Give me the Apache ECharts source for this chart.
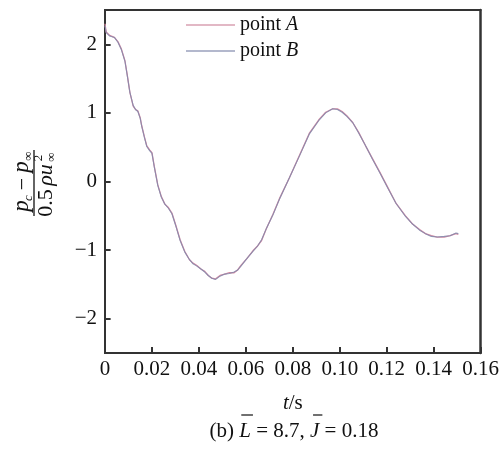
<!DOCTYPE html>
<html>
<head>
<meta charset="utf-8">
<script src="https://cdn.jsdelivr.net/npm/echarts@6/dist/echarts.min.js"></script>
<style>html,body{margin:0;padding:0;background:#fff}#c{width:502px;height:450px}</style>
</head>
<body>
<div id="c"></div>
<script>
var tValues = [0, 0.0005, 0.002, 0.004, 0.0055, 0.007, 0.0085, 0.0095, 0.0106, 0.012, 0.013, 0.014, 0.015, 0.0156, 0.0168, 0.0178, 0.019, 0.02, 0.021, 0.0225, 0.024, 0.0255, 0.027, 0.0285, 0.030, 0.032, 0.034, 0.036, 0.0375, 0.039, 0.041, 0.0425, 0.044, 0.0455, 0.047, 0.049, 0.051, 0.053, 0.055, 0.0565, 0.058, 0.0605, 0.063, 0.065, 0.0667, 0.0688, 0.0715, 0.0743, 0.0785, 0.0828, 0.087, 0.0913, 0.094, 0.097, 0.099, 0.101, 0.103, 0.1055, 0.108, 0.111, 0.114, 0.117, 0.1205, 0.124, 0.128, 0.131, 0.134, 0.1365, 0.139, 0.1415, 0.1445, 0.147, 0.1495, 0.1505];
var pointA = [2.30, 2.18, 2.13, 2.10, 2.04, 1.93, 1.76, 1.55, 1.30, 1.10, 1.05, 1.03, 0.93, 0.82, 0.65, 0.52, 0.46, 0.42, 0.22, -0.05, -0.22, -0.33, -0.38, -0.46, -0.62, -0.85, -1.02, -1.14, -1.19, -1.22, -1.28, -1.31, -1.37, -1.41, -1.42, -1.37, -1.35, -1.33, -1.33, -1.29, -1.22, -1.12, -1.01, -0.94, -0.86, -0.68, -0.48, -0.25, 0.05, 0.38, 0.70, 0.91, 1.01, 1.06, 1.06, 1.02, 0.96, 0.86, 0.72, 0.52, 0.33, 0.14, -0.09, -0.32, -0.50, -0.62, -0.70, -0.76, -0.79, -0.81, -0.81, -0.79, -0.76, -0.77];
var pointB = [2.27, 2.17, 2.12, 2.10, 2.03, 1.92, 1.75, 1.54, 1.30, 1.11, 1.05, 1.02, 0.92, 0.81, 0.64, 0.51, 0.45, 0.41, 0.21, -0.06, -0.23, -0.33, -0.39, -0.47, -0.63, -0.86, -1.03, -1.14, -1.20, -1.23, -1.28, -1.32, -1.37, -1.41, -1.43, -1.38, -1.35, -1.34, -1.32, -1.29, -1.23, -1.12, -1.02, -0.94, -0.85, -0.68, -0.49, -0.26, 0.05, 0.37, 0.69, 0.90, 1.00, 1.06, 1.05, 1.01, 0.95, 0.86, 0.71, 0.52, 0.32, 0.13, -0.10, -0.32, -0.51, -0.62, -0.71, -0.76, -0.80, -0.81, -0.80, -0.79, -0.75, -0.76];
var xTicks = [0, 0.02, 0.04, 0.06, 0.08, 0.10, 0.12, 0.14, 0.16];
var yTicks = [-2, -1, 0, 1, 2];
var seriesNames = ['point A', 'point B'];
var captionParts = ['(b) ', 'L', ' = 8.7, ', 'J', ' = 0.18'];

var FONT = '"Liberation Serif", "Times New Roman", serif';
var INK = '#111';
var AX = '#333';
var chart = echarts.init(document.getElementById('c'), null, {renderer: 'canvas'});

function pairs(ys) { return tValues.map(function (t, i) { return [t, ys[i]]; }); }

var CAP_SIZE = 21, CAP_X = 294, CAP_Y = 431;
var mctx = document.createElement('canvas').getContext('2d');
function mw(s, italic) { mctx.font = (italic ? 'italic ' : '') + CAP_SIZE + 'px ' + FONT; return mctx.measureText(s).width; }
var widths = captionParts.map(function (s, i) { return mw(s, i === 1 || i === 3); });
var total = widths.reduce(function (a, b) { return a + b; }, 0);
var x0 = CAP_X - total / 2;
var lStart = x0 + widths[0], lEnd = lStart + widths[1];
var jStart = x0 + widths[0] + widths[1] + widths[2], jEnd = jStart + widths[3];
var captionText = captionParts[0] + '{i|' + captionParts[1] + '}' + captionParts[2] + '{i|' + captionParts[3] + '}' + captionParts[4];
var OVER_Y = CAP_Y - 16;

var G = {left: 105, right: 21, top: 10, bottom: 97, w: 502, h: 450};
var gridW = G.w - G.left - G.right, gridH = G.h - G.top - G.bottom;

var xRange = {type: 'value', min: 0, max: 0.16, interval: 0.02};
var yRange = {type: 'value', min: -2.5, max: 2.5};
function lineOnly(show, w) { return {show: show, onZero: false, lineStyle: {color: AX, width: w || 2}}; }

var option = {
  backgroundColor: '#fff',
  animation: false,
  grid: {left: G.left, right: G.right, top: G.top, bottom: G.bottom},
  legend: {
    orient: 'vertical', left: 181, top: 10, itemWidth: 49, itemHeight: 1.5, itemGap: 6, icon: 'rect',
    data: seriesNames,
    textStyle: {fontFamily: FONT, fontSize: 20, color: INK,
      rich: {i: {fontFamily: FONT, fontSize: 20, fontStyle: 'italic', color: INK}}},
    formatter: function (n) { var p = n.split(' '); return p[0] + ' {i|' + p[1] + '}'; }
  },
  xAxis: [
    Object.assign({}, xRange, {
      position: 'bottom',
      name: '{i|t}/s', nameLocation: 'middle', nameGap: 40,
      nameTextStyle: {fontFamily: FONT, fontSize: 21, color: INK,
        rich: {i: {fontFamily: FONT, fontSize: 21, fontStyle: 'italic', color: INK}}},
      axisLine: lineOnly(true), axisTick: {show: false},
      axisLabel: {fontFamily: FONT, fontSize: 21, color: INK, margin: 6,
        formatter: function (v) { return v === 0 ? '0' : v.toFixed(2); }},
      splitLine: {show: false}
    }),
    // tick carrier: a top-positioned axis moved down onto the bottom edge; its outward ticks point up into the plot
    Object.assign({}, xRange, {
      position: 'top', offset: -gridH, axisLine: lineOnly(true),
      axisTick: {show: true, inside: false, length: 6, lineStyle: {color: AX, width: 2}},
      axisLabel: {show: false}, splitLine: {show: false}
    }),
    Object.assign({}, xRange, {
      position: 'top', axisLine: lineOnly(true), axisTick: {show: false}, axisLabel: {show: false}, splitLine: {show: false}
    })
  ],
  yAxis: [
    Object.assign({}, yRange, {
      position: 'left', axisLine: lineOnly(true), axisTick: {show: false},
      axisLabel: {fontFamily: FONT, fontSize: 21, color: INK, margin: 8, customValues: yTicks,
        formatter: function (v) { return v < 0 ? '\u2212' + Math.abs(v) : String(v); }},
      splitLine: {show: false}
    }),
    // tick carrier: a right-positioned axis moved onto the left edge; its outward ticks point right into the plot
    Object.assign({}, yRange, {
      position: 'right', offset: -gridW, axisLine: lineOnly(true),
      axisTick: {show: true, inside: false, length: 6, lineStyle: {color: AX, width: 2}, customValues: yTicks},
      axisLabel: {show: false}, splitLine: {show: false}
    }),
    Object.assign({}, yRange, {
      position: 'right', axisLine: lineOnly(true, 2.5), axisTick: {show: false}, axisLabel: {show: false}, splitLine: {show: false}
    })
  ],
  series: [
    {name: seriesNames[0], type: 'line', symbol: 'none', xAxisIndex: 0, yAxisIndex: 0, data: pairs(pointA),
      lineStyle: {color: '#d48aa2', width: 1.3}, itemStyle: {color: '#d9a0b2'}},
    {name: seriesNames[1], type: 'line', symbol: 'none', xAxisIndex: 0, yAxisIndex: 0, data: pairs(pointB),
      lineStyle: {color: '#8088ac', width: 1.1, opacity: 0.85}, itemStyle: {color: '#9aa0bc'}}
  ],
  graphic: [
    {
      type: 'group', x: 34, y: 183, rotation: Math.PI / 2,
      children: [
        {type: 'text', x: -23, y: -12, style: {text: 'p', font: 'italic 23px ' + FONT, fill: INK, align: 'center', verticalAlign: 'middle'}},
        {type: 'text', x: -15, y: -5, style: {text: 'c', font: 'italic 13px ' + FONT, fill: INK, align: 'center', verticalAlign: 'middle'}},
        {type: 'text', x: -1, y: -11, style: {text: '\u2212', font: '22px ' + FONT, fill: INK, align: 'center', verticalAlign: 'middle'}},
        {type: 'text', x: 16, y: -12, style: {text: 'p', font: 'italic 23px ' + FONT, fill: INK, align: 'center', verticalAlign: 'middle'}},
        {type: 'text', x: 27, y: -5, style: {text: '\u221e', font: '13px ' + FONT, fill: INK, align: 'center', verticalAlign: 'middle'}},
        {type: 'line', shape: {x1: -33, y1: 0, x2: 33, y2: 0}, style: {stroke: INK, lineWidth: 1.3}},
        {type: 'text', x: -20, y: 12, style: {text: '0.5', font: '22px ' + FONT, fill: INK, align: 'center', verticalAlign: 'middle'}},
        {type: 'text', x: 8, y: 12, style: {text: '\u03c1u', font: 'italic 22px ' + FONT, fill: INK, align: 'center', verticalAlign: 'middle'}},
        {type: 'text', x: 25, y: 5, style: {text: '2', font: '13px ' + FONT, fill: INK, align: 'center', verticalAlign: 'middle'}},
        {type: 'text', x: 26, y: 18, style: {text: '\u221e', font: '13px ' + FONT, fill: INK, align: 'center', verticalAlign: 'middle'}}
      ]
    },
    {
      type: 'text', x: CAP_X, y: CAP_Y,
      style: {text: captionText, font: CAP_SIZE + 'px ' + FONT, fill: INK, align: 'center', verticalAlign: 'middle',
        rich: {i: {fontStyle: 'italic', fontFamily: FONT, fontSize: CAP_SIZE, fill: INK}}}
    },
    {type: 'line', shape: {x1: lStart + 2, y1: OVER_Y, x2: lEnd + 2, y2: OVER_Y}, style: {stroke: INK, lineWidth: 1.2}},
    {type: 'line', shape: {x1: jStart + 3, y1: OVER_Y, x2: jEnd + 3, y2: OVER_Y}, style: {stroke: INK, lineWidth: 1.2}}
  ]
};
chart.setOption(option);
</script>
</body>
</html>
